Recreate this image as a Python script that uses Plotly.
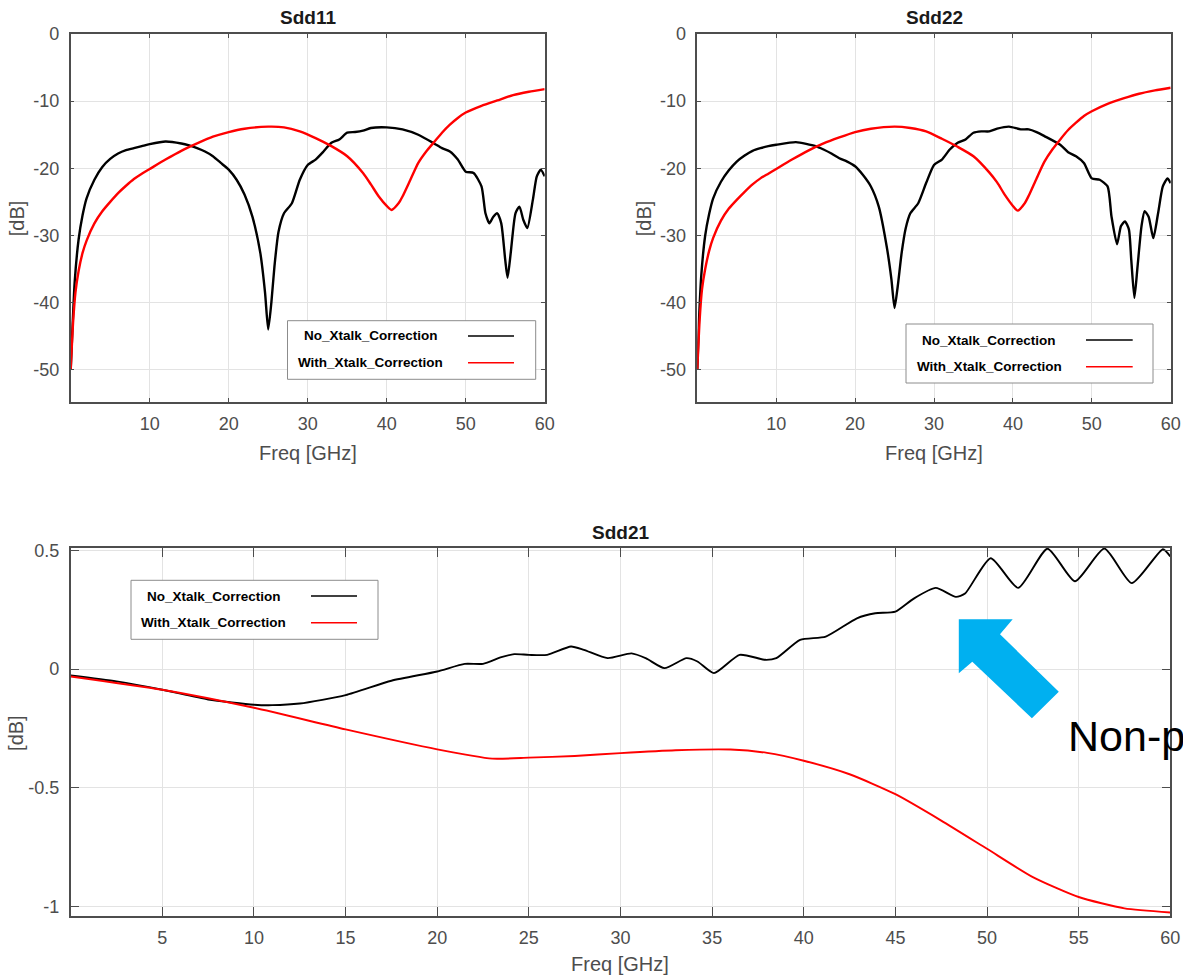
import plotly.graph_objects as go

W, H = 1183, 975

# ---------------- data ----------------
SERIES = ["No_Xtalk_Correction", "With_Xtalk_Correction"]
COLORS = ["#000000", "#ff0000"]

f11_no = [0, 0.2, 0.5, 1, 1.5, 2, 3, 4, 5, 6, 7, 8, 9, 10, 12, 14, 15, 16, 17, 18, 19, 20,
          21, 22, 23, 24, 24.6, 25, 25.4, 25.8, 26.3, 27, 28, 29, 30, 31, 32, 33, 34, 35,
          36, 37, 38, 40, 42, 44, 46, 47, 48, 49, 50, 51, 52, 52.5, 53, 53.5, 54, 54.5,
          55, 55.3, 55.7, 56.3, 56.8, 57.3, 57.8, 58.5, 59, 59.5, 60]
s11_no = [-50, -44.5, -37, -30.6, -27, -24.5, -21.7, -19.8, -18.6, -17.8, -17.3, -17.0, -16.7,
          -16.4, -16.0, -16.3, -16.6, -17, -17.5, -18.2, -19.2, -20.2, -21.7, -23.9, -27.2,
          -32.6, -38.5, -44, -40, -34.5, -29.5, -26.7, -25.2, -21.7, -19.5, -18.7, -17.5,
          -16.2, -15.7, -14.7, -14.6, -14.4, -14.0, -13.9, -14.2, -15.0, -16.3, -17.0, -17.5,
          -18.7, -20.5, -20.7, -22.7, -26.7, -28.2, -27.2, -26.7, -28.2, -33.6, -36.3, -32.6,
          -26.7, -25.7, -27.7, -28.9, -24.7, -21.2, -20.2, -21.2]

f11_with = [0, 0.3, 0.6, 1, 1.5, 2, 3, 4, 5, 6, 7, 8, 9, 10, 12, 14, 16, 18, 20, 22, 25, 27,
            29, 31, 33, 35, 37, 38, 39, 40, 40.6, 41.5, 42, 43, 44, 45, 46, 47, 48, 49, 50,
            52, 54, 56, 58, 60]
s11_with = [-50, -43, -38.5, -35.3, -32.6, -30.8, -28.2, -26.4, -25.0, -23.7, -22.6, -21.6,
            -20.8, -20.1, -18.7, -17.4, -16.3, -15.3, -14.6, -14.1, -13.8, -13.9, -14.5,
            -15.5, -16.7, -18.2, -20.7, -22.4, -24.2, -25.6, -26.2, -25.2, -24.2, -21.7,
            -19.2, -17.5, -16.1, -14.7, -13.5, -12.5, -11.7, -10.7, -9.9, -9.1, -8.6, -8.2]

f22_no = [0, 0.2, 0.5, 1, 1.5, 2, 3, 4, 5, 6, 7, 8, 9, 10, 12.5, 15, 16, 17, 18, 19, 20, 21,
          22, 23, 24, 24.6, 25, 25.4, 25.9, 26.4, 27, 28, 29, 30, 31, 32, 33, 34, 35, 36, 37,
          38, 39.5, 41, 42, 43, 44, 46, 47, 48, 49, 50, 51, 52, 52.5, 53.2, 53.7, 54.2,
          54.7, 55, 55.4, 55.8, 56.3, 56.7, 57.2, 57.8, 58.4, 59, 59.6, 60]
s22_no = [-50, -43, -36, -30, -26.8, -24.5, -22.0, -20.3, -19.0, -18.1, -17.4, -17.0, -16.7,
          -16.5, -16.1, -16.7, -17.2, -17.8, -18.5, -19.0, -19.7, -21.0, -22.7, -25.7, -31.6,
          -36.5, -40.8, -37.6, -32.6, -29.0, -26.7, -25.2, -22.2, -19.5, -18.7, -17.2, -16.2,
          -15.7, -14.7, -14.5, -14.5, -14.1, -13.8, -14.2, -14.2, -14.6, -15.2, -16.5, -17.6,
          -18.2, -19.2, -21.5, -21.7, -22.7, -27.2, -31.3, -28.6, -27.9, -29.1, -33.6, -39.3,
          -34.6, -28.6, -26.4, -27.2, -30.4, -26.7, -22.7, -21.5, -22.2]

f22_with = [0, 0.3, 0.6, 1, 1.5, 2, 3, 4, 5, 6, 7, 8, 9, 10, 12, 14, 16, 18, 20, 22, 25, 27,
            29, 31, 33, 35, 37, 38, 39, 40, 40.6, 41.5, 42, 43, 44, 45, 46, 47, 48, 49, 50,
            52, 54, 56, 58, 60]
s22_with = [-50, -42.5, -38, -35, -32.3, -30.4, -27.8, -26.0, -24.7, -23.5, -22.4, -21.5,
            -20.8, -20.1, -18.7, -17.4, -16.3, -15.4, -14.6, -14.1, -13.8, -14.0, -14.5,
            -15.6, -16.8, -18.2, -20.6, -22.1, -24.0, -25.6, -26.3, -25.2, -24.1, -21.5,
            -19.0, -17.2, -15.7, -14.3, -13.2, -12.2, -11.5, -10.4, -9.6, -8.9, -8.4, -8.0]

f21_no = [0, 2.5, 5, 7.5, 10, 11, 12.5, 15, 17.5, 20, 21.5, 22.5, 23.5, 24.2, 25, 26, 27.3,
          28, 29.3, 30.6, 31.4, 32.4, 33.6, 34.2, 35.1, 36.5, 37.9, 38.5, 39.8, 41.2, 42.9,
          43.9, 45, 46, 47.2, 48.3, 48.8, 50.2, 51.7, 53.3, 54.8, 56.4, 57.9, 59.6, 60]
s21_no = [-0.027, -0.052, -0.087, -0.128, -0.150, -0.152, -0.145, -0.110, -0.049, -0.010,
          0.022, 0.022, 0.050, 0.063, 0.060, 0.060, 0.095, 0.081, 0.046, 0.066, 0.045,
          0.004, 0.046, 0.032, -0.017, 0.060, 0.039, 0.046, 0.123, 0.137, 0.214, 0.235,
          0.242, 0.297, 0.342, 0.304, 0.318, 0.467, 0.342, 0.507, 0.370, 0.508, 0.362,
          0.505, 0.474]

f21_with = [0, 5, 10, 15, 20, 23, 25, 27.5, 30, 33, 36, 38, 40, 42.5, 45, 47.5, 50, 52.5, 55,
            57.5, 60]
s21_with = [-0.031, -0.087, -0.163, -0.254, -0.338, -0.377, -0.373, -0.366, -0.354, -0.342,
            -0.339, -0.353, -0.386, -0.443, -0.527, -0.638, -0.757, -0.876, -0.960, -1.008,
            -1.025]

ticks_top_x = [10, 20, 30, 40, 50, 60]
ticks_top_y = [0, -10, -20, -30, -40, -50]
ticks_top_y_text = ["0", "-10", "-20", "-30", "-40", "-50"]
ticks_bot_x = [5, 10, 15, 20, 25, 30, 35, 40, 45, 50, 55, 60]
ticks_bot_y = [0.5, 0, -0.5, -1]
ticks_bot_y_text = ["0.5", "0", "-0.5", "-1"]

PANELS = ["Sdd11", "Sdd22", "Sdd21"]
ARROW_TEXT = "Non-passive"

# ---------------- helpers ----------------
def X(px):
    return px / W


def Y(py):
    return 1 - py / H


FONT = "Liberation Sans, Arial, sans-serif"
AX_COL = "#4d4d4d"

fig = go.Figure()

panel_data = [
    ("x", "y", [(f11_no, s11_no), (f11_with, s11_with)], 2.4),
    ("x2", "y2", [(f22_no, s22_no), (f22_with, s22_with)], 2.4),
    ("x3", "y3", [(f21_no, s21_no), (f21_with, s21_with)], 1.9),
]
for xa, ya, series, lw in panel_data:
    for (fx, fy), name, col in zip(series, SERIES, COLORS):
        fig.add_trace(go.Scatter(x=fx, y=fy, mode="lines", name=name, xaxis=xa, yaxis=ya,
                                 line=dict(color=col, width=lw, shape="spline", smoothing=0.6),
                                 showlegend=False, hoverinfo="x+y+name"))


def axis(domain, anchor, rng, tickvals, ticktext=None, ticklen=4, standoff=6):
    d = dict(domain=domain, anchor=anchor, range=rng, tickvals=tickvals,
             showline=True, linecolor=AX_COL, linewidth=1.5, mirror="ticks",
             ticks="inside", ticklen=ticklen, tickcolor=AX_COL, tickwidth=1.2,
             showgrid=True, gridcolor="#e3e3e3", gridwidth=1, zeroline=False,
             automargin=False,
             tickfont=dict(family=FONT, size=18, color=AX_COL),
             ticklabelstandoff=standoff)
    if ticktext is not None:
        d["ticktext"] = ticktext
    return d


ydom_top = [Y(402), Y(34)]
ydom_bot = [Y(916), Y(548)]

fig.update_layout(
    width=W, height=H, margin=dict(l=0, r=0, t=0, b=0, pad=0, autoexpand=False),
    paper_bgcolor="white", plot_bgcolor="white", showlegend=False,
    xaxis=axis([X(70.7), X(544.7)], "y", [0, 60], ticks_top_x, standoff=5),
    yaxis=axis(ydom_top, "x", [-54.8, 0], ticks_top_y, ticks_top_y_text, standoff=6),
    xaxis2=axis([X(697.3), X(1170.7)], "y2", [0, 60], ticks_top_x, standoff=5),
    yaxis2=axis(ydom_top, "x2", [-54.8, 0], ticks_top_y, ticks_top_y_text, standoff=6),
    xaxis3=axis([X(70.7), X(1170.3)], "y3", [0, 60], ticks_bot_x, ticklen=9, standoff=5),
    yaxis3=axis(ydom_bot, "x3", [-1.04, 0.51], ticks_bot_y, ticks_bot_y_text, ticklen=9,
                standoff=6),
)

annotations = []
shapes = []

# panel titles
for name, cx, cy in [(PANELS[0], 307.7, 18), (PANELS[1], 934, 18), (PANELS[2], 620.5, 532.5)]:
    annotations.append(dict(text="<b>%s</b>" % name, x=X(cx), y=Y(cy), xref="paper", yref="paper",
                            xanchor="center", yanchor="middle", showarrow=False,
                            font=dict(family=FONT, size=19, color="#1a1a1a")))

# axis titles
for cx, cy in [(307.7, 452.5), (934, 452.5), (620, 964)]:
    annotations.append(dict(text="Freq [GHz]", x=X(cx), y=Y(cy), xref="paper", yref="paper",
                            xanchor="center", yanchor="middle", showarrow=False,
                            font=dict(family=FONT, size=20, color=AX_COL)))
for cx, cy in [(17.3, 218), (644.2, 218), (15.9, 733)]:
    annotations.append(dict(text="[dB]", x=X(cx), y=Y(cy), xref="paper", yref="paper",
                            xanchor="center", yanchor="middle", showarrow=False, textangle=-90,
                            font=dict(family=FONT, size=20, color=AX_COL)))

# legends (text left, line sample right)
legends = [
    # box x0, x1, y0, y1, text centre x, line x0, x1, row ys
    (287.5, 535.7, 320.7, 379.3, 370.5, 468, 514, (336, 362.7)),
    (906, 1153, 324, 383, 989, 1086, 1132.7, (340, 366.7)),
    (131, 378, 580.3, 639.3, 213.5, 311, 357, (596, 622.7)),
]
for bx0, bx1, by0, by1, tcx, lx0, lx1, rows in legends:
    shapes.append(dict(type="rect", xref="paper", yref="paper", x0=X(bx0), x1=X(bx1),
                       y0=Y(by1), y1=Y(by0), fillcolor="white",
                       line=dict(color="#8c8c8c", width=1), layer="above"))
    for name, col, ry in zip(SERIES, COLORS, rows):
        annotations.append(dict(text="<b>%s</b>" % name, x=X(tcx), y=Y(ry), xref="paper",
                                yref="paper", xanchor="center", yanchor="middle",
                                showarrow=False,
                                font=dict(family=FONT, size=13.5, color="#000000")))
        shapes.append(dict(type="line", xref="paper", yref="paper", x0=X(lx0), x1=X(lx1),
                           y0=Y(ry), y1=Y(ry), line=dict(color=col, width=1.6), layer="above"))

# blue arrow
arrow_pts = [(958.8, 619.3), (1012.7, 619.3), (1000, 634.3), (1058.8, 691.7),
             (1031.9, 718.3), (972.3, 661.7), (958.8, 673.3)]
path = "M " + " L ".join("%.5f,%.5f" % (X(px), Y(py)) for px, py in arrow_pts) + " Z"
shapes.append(dict(type="path", xref="paper", yref="paper", path=path,
                   fillcolor="#00b0f0", line=dict(width=0), layer="above"))
annotations.append(dict(text=ARROW_TEXT, x=X(1066), y=Y(735.5), xref="paper", yref="paper",
                        xanchor="left", yanchor="middle", showarrow=False,
                        font=dict(family=FONT, size=43, color="#000000")))

fig.update_layout(annotations=annotations, shapes=shapes)

fig.write_html("out.html", config={"displayModeBar": False},
               post_script="document.body.style.margin='0';document.body.style.overflow='hidden';")
